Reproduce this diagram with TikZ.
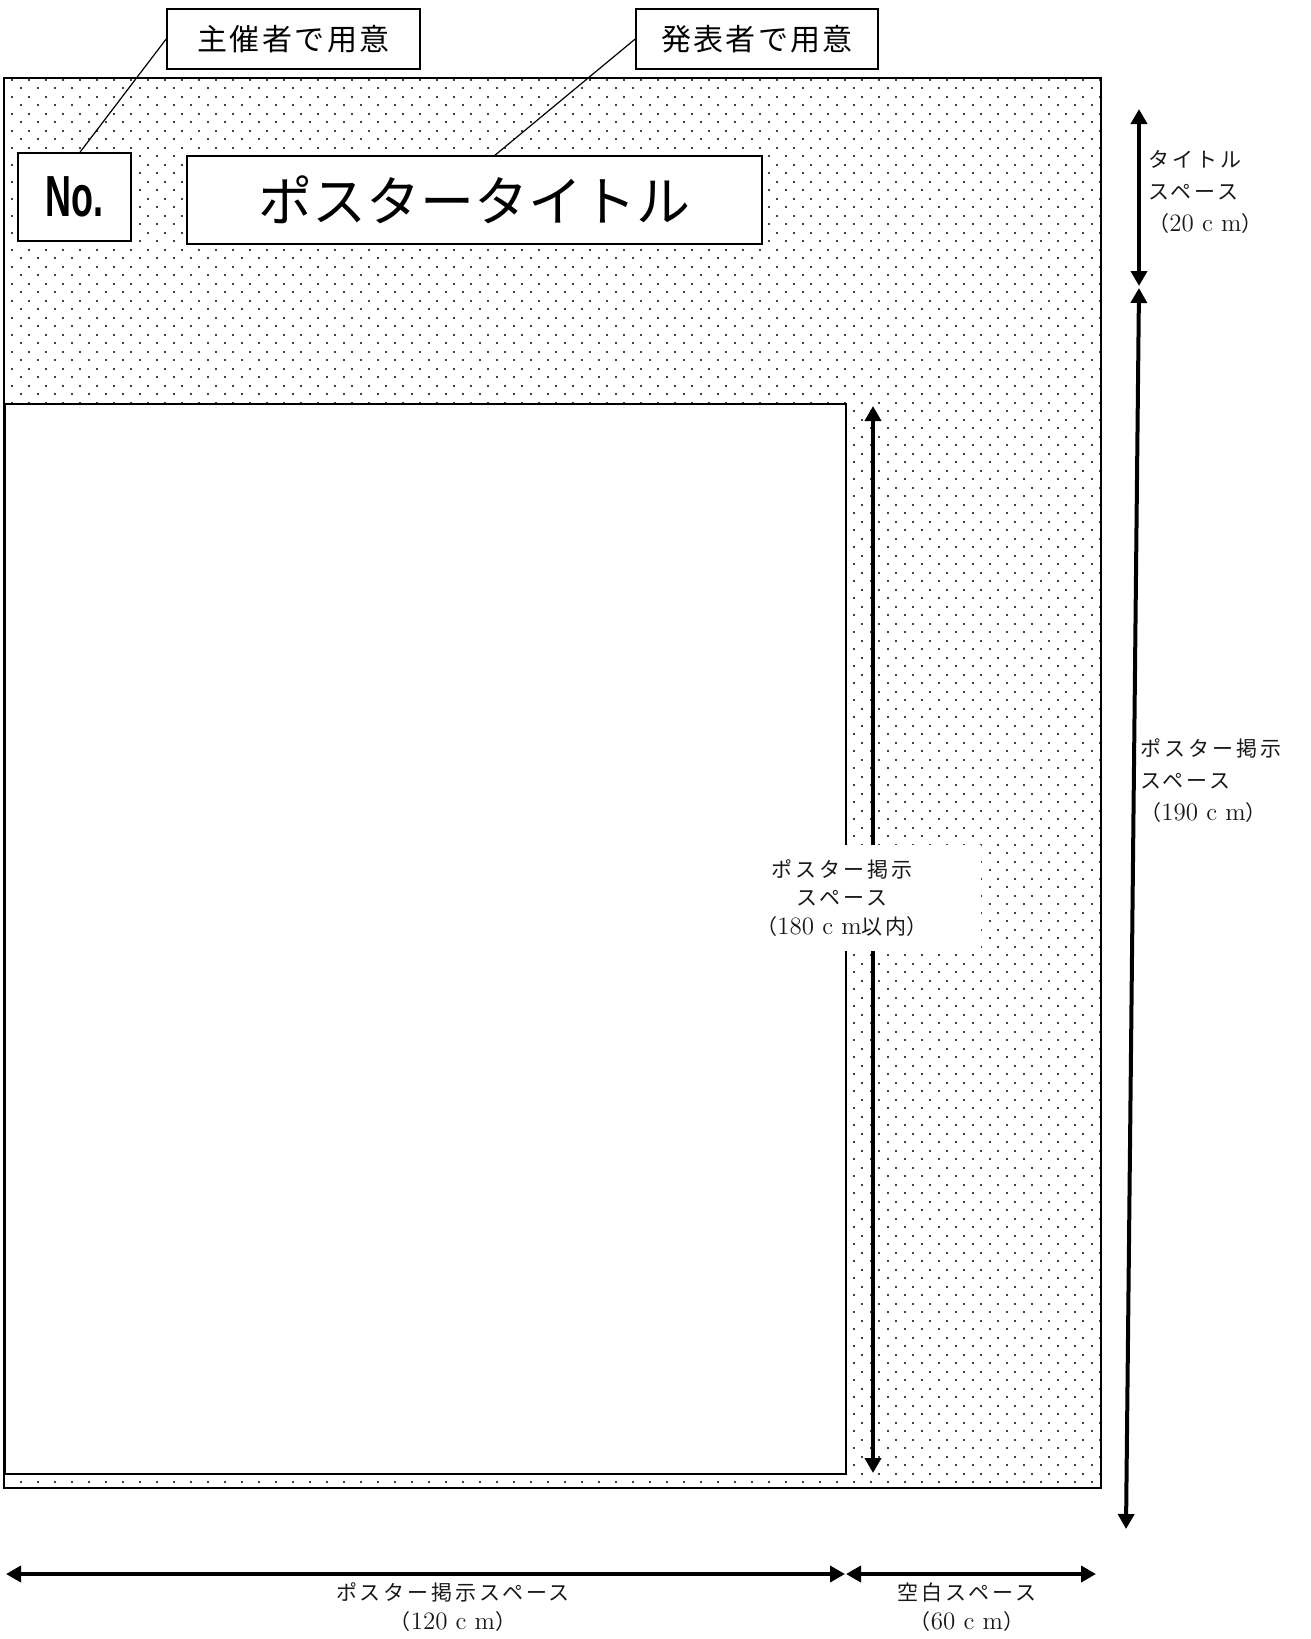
\documentclass[tikz,border=0pt]{standalone}
\usepackage{fontspec}
\usetikzlibrary{arrows.meta,patterns,calc}
\newfontfamily\jp{Noto Sans CJK JP}
\newfontfamily\jpdim[LetterSpace=14]{Noto Sans CJK JP}
\newfontfamily\jplab[LetterSpace=8]{Noto Sans CJK JP}
\newfontfamily\nofont{Liberation Sans}
\newcommand{\dimnum}[1]{{\rmfamily\fontsize{12.5pt}{14pt}\selectfont #1}}
\pgfdeclarepatternformonly{sparsedots}{\pgfpointorigin}{\pgfpoint{8.5pt}{8.5pt}}{\pgfpoint{8.5pt}{8.5pt}}{%
  \pgfpathcircle{\pgfpoint{2.125pt}{2.125pt}}{0.6pt}%
  \pgfpathcircle{\pgfpoint{6.375pt}{6.375pt}}{0.6pt}%
  \pgfusepath{fill}%
}
\tikzset{
  boxed/.style={draw=black,line width=0.8pt,fill=white,inner sep=0pt},
  leader/.style={draw=black,line width=0.6pt},
  dimarrow/.style={line width=2pt,{Triangle[length=7.5pt,width=8pt]}-{Triangle[length=7.5pt,width=8pt]}},
  dimtext/.style={inner sep=0pt,text=black!90,font=\jpdim\fontsize{10.5pt}{16pt}\selectfont},
}
\begin{document}
\begin{tikzpicture}[x=0.5pt,y=-0.5pt]
\useasboundingbox (0,0) rectangle (1311,1639);
% outer dotted board
\draw[line width=0.8pt,pattern=sparsedots] (4,78) rectangle (1101,1488);
% poster area
\draw[line width=1pt,fill=white] (5,404) rectangle (846,1474);
% boxes
\node[boxed,minimum width=126.5pt,minimum height=30pt,font=\jplab\fontsize{15pt}{18pt}\selectfont] (lab1) at (293.5,39) {主催者で用意};
\node[boxed,minimum width=121pt,minimum height=30pt,font=\jplab\fontsize{15pt}{18pt}\selectfont] (lab2) at (757,39) {発表者で用意};
\node[boxed,minimum width=56.5pt,minimum height=44pt] (no) at (74.5,197) {\scalebox{0.62}[1]{\nofont\bfseries\fontsize{29pt}{32pt}\selectfont No.}};
\node[boxed,minimum width=287.5pt,minimum height=44pt,font=\jp\fontsize{27pt}{30pt}\selectfont] (title) at (474.5,200) {ポスタータイトル};
% leaders
\draw[leader] (lab1.west) -- ($(no.north)+(5.5,0)$);
\draw[leader] (lab2.west) -- ($(title.north)+(20.5,0)$);
% dimension coordinates
\coordinate (t1) at (1139,109);
\coordinate (t2) at (1139,286);
\coordinate (p1) at (1139,288);
\coordinate (p2) at (1126,1529);
\coordinate (i1) at (873,406);
\coordinate (i2) at (873,1473);
\coordinate (b1) at (6,1574);
\coordinate (b2) at (845,1574);
\coordinate (b3) at (846,1574);
\coordinate (b4) at (1096,1574);
\draw[dimarrow] (t1) -- (t2);
\draw[dimarrow] (p1) -- (p2);
\draw[dimarrow] (i1) -- (i2);
\draw[dimarrow] (b1) -- (b2);
\draw[dimarrow] (b3) -- (b4);
% labels
\node[dimtext,anchor=west,align=left] (ltitle) at (1148,192) {タイトル\\スペース\\{\jp （}\dimnum{20 c m}{\jp ）}};
\node[dimtext,anchor=west,align=left] (lposter) at (1140,781) {ポスター掲示\\スペース\\ {\jp （}\dimnum{190 c m}{\jp ）}};
\fill[white] (755,845) rectangle (981,951);
\node[dimtext,align=center,font=\jpdim\fontsize{10.5pt}{14.25pt}\selectfont] (linner) at (842,898) {ポスター掲示\\スペース\\{\jp （}\dimnum{180 c m}以内{\jp ）}};
\node[dimtext,align=center,font=\jpdim\fontsize{10.5pt}{14.5pt}\selectfont] (lbottom) at (453,1607) {ポスター掲示スペース\\{\jp （}\dimnum{120 c m}{\jp ）}};
\node[dimtext,align=center,font=\jpdim\fontsize{10.5pt}{14.5pt}\selectfont] (lblank) at (967,1607) {空白スペース\\{\jp （}\dimnum{60 c m}{\jp ）}};
\end{tikzpicture}
\end{document}
